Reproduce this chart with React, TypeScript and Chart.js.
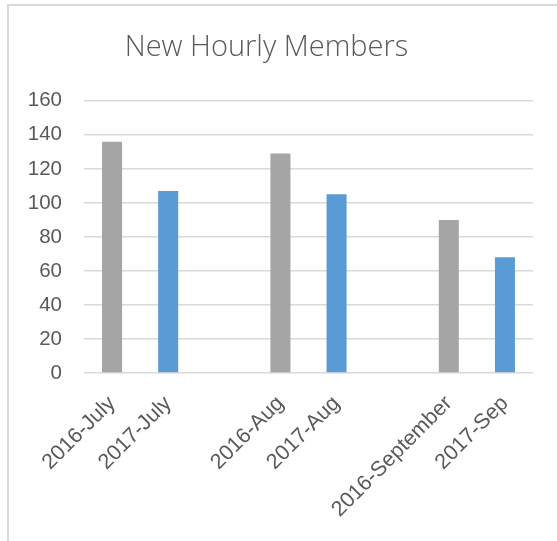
import React, { useEffect, useRef } from "react";
import { Chart, registerables } from "chart.js";

Chart.register(...registerables);

const categories = ["2016-July", "2017-July", "", "2016-Aug", "2017-Aug", "", "2016-September", "2017-Sep"];
const values = [136, 107, null, 129, 105, null, 90, 68];
const barColors = ["#A5A5A5", "#5B9BD5", "#A5A5A5", "#A5A5A5", "#5B9BD5", "#5B9BD5", "#A5A5A5", "#5B9BD5"];
const yTicks = [0, 20, 40, 60, 80, 100, 120, 140, 160];
const title = "New Hourly Members";

export default function App() {
  const ref = useRef<HTMLCanvasElement | null>(null);
  useEffect(() => {
    if (!ref.current) return;
    const chart = new Chart(ref.current, {
      type: "bar",
      data: {
        labels: categories,
        datasets: [
          {
            data: values,
            backgroundColor: barColors,
            barPercentage: 0.357,
            categoryPercentage: 1,
          },
        ],
      },
      options: {
        animation: false,
        responsive: false,
        maintainAspectRatio: false,
        layout: { padding: { left: 0, right: 24, top: 0, bottom: 0 } },
        plugins: {
          legend: { display: false },
          tooltip: { enabled: false },
          title: {
            display: true,
            text: title,
            color: "#595959",
            font: { family: "'Open Sans'", size: 29, weight: "300" as any, lineHeight: 1.2 },
            padding: { top: 30, bottom: 36 },
          },
        },
        scales: {
          x: {
            grid: { display: false, drawTicks: false },
            border: { display: false },
            ticks: {
              color: "#595959",
              font: { family: "'Liberation Sans'", size: 21.5 },
              maxRotation: 45,
              minRotation: 45,
              autoSkip: false,
              padding: 18,
            },
            afterFit: (s: any) => {
              s.height = 541 - 373;
            },
          },
          y: {
            min: 0,
            max: 160,
            afterBuildTicks: (s: any) => {
              s.ticks = yTicks.map((v) => ({ value: v }));
            },
            grid: { color: "#D9D9D9", lineWidth: 1.5, drawTicks: false },
            border: { display: false },
            ticks: {
              color: "#595959",
              font: { family: "'Liberation Sans'", size: 20.5 },
              padding: 22,
            },
            afterFit: (s: any) => {
              s.width = 84;
            },
          },
        },
      },
    });
    return () => chart.destroy();
  }, []);
  return (
    <div style={{ position: "fixed", left: 0, top: 0, width: 557, height: 541, background: "#fff" }}>
      <div
        style={{
          position: "absolute",
          left: 7,
          top: 4,
          right: -10,
          bottom: -10,
          borderLeft: "2px solid #D9D9D9",
          borderTop: "2px solid #D9D9D9",
        }}
      />
      <canvas ref={ref} width={557} height={541} style={{ position: "absolute", left: 0, top: 0 }} />
    </div>
  );
}
